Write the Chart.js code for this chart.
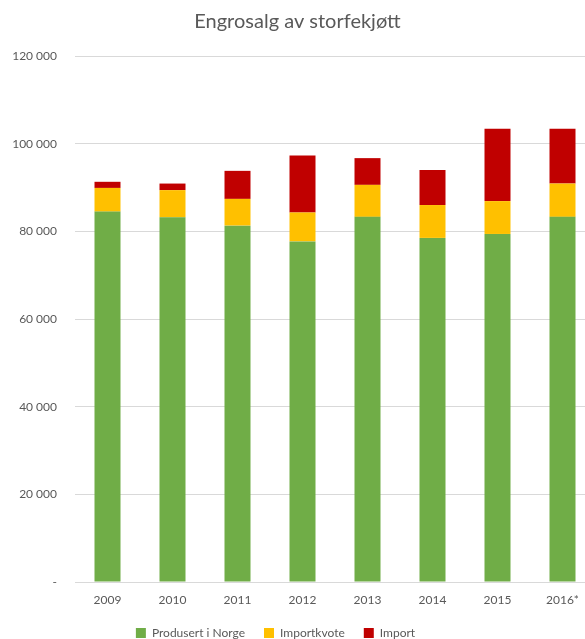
<!DOCTYPE html>
<html>
<head>
<meta charset="utf-8">
<script src="https://cdn.jsdelivr.net/npm/chart.js@4"></script>
<style>
  html, body { margin: 0; padding: 0; background: #fff; overflow: hidden; }
  #wrap { width: 595px; height: 649px; }
</style>
</head>
<body>
<div id="wrap"><canvas id="myChart"></canvas></div>
<script>
// data
const years = ['2009', '2010', '2011', '2012', '2013', '2014', '2015', '2016*'];
const produsert = [84500, 83200, 81300, 77700, 83300, 78500, 79400, 83300];
const importkvote = [5400, 6200, 6100, 6600, 7300, 7500, 7500, 7600];
const importVals = [1400, 1500, 6400, 13000, 6100, 8000, 16500, 12500];
const yTicks = [0, 20000, 40000, 60000, 80000, 100000, 120000];

const textCol = '#595959';
const fontFam = 'Lato, "Liberation Sans", sans-serif';

function fmt(v){
    if (v === 0) return '-';
    return String(v).replace(/\B(?=(\d{3})+(?!\d))/g, ' ');
}

// legend in the reference sits a bit left of the canvas centre
const legendShift = {
    id: 'legendShift',
    afterLayout: function(chart){
        chart.legend.left -= 22;
        chart.legend.right -= 22;
    }
};

const data = {
    labels: years,
    datasets: [
        { label: 'Produsert i Norge', data: produsert, backgroundColor: '#70AD47' },
        { label: 'Importkvote', data: importkvote, backgroundColor: '#FFC000' },
        { label: 'Import', data: importVals, backgroundColor: '#C00000' }
    ]
};

const config = {
    type: 'bar',
    data: data,
    plugins: [legendShift],
    options: {
        responsive: true,
        maintainAspectRatio: false,
        animation: false,
        layout: { padding: { top: 10, right: 0, bottom: 0, left: 0 } },
        datasets: { bar: { categoryPercentage: 1, barPercentage: 0.4 } },
        plugins: {
            title: {
                display: true,
                text: 'Engrosalg av storfekjøtt',
                color: textCol,
                font: { family: fontFam, size: 20, weight: 'normal' },
                padding: { top: 0, bottom: 22 }
            },
            legend: {
                position: 'bottom',
                labels: {
                    color: textCol,
                    font: { family: fontFam, size: 12 },
                    boxWidth: 10,
                    boxHeight: 10,
                    padding: 19
                }
            },
            tooltip: { enabled: false }
        },
        scales: {
            x: {
                stacked: true,
                afterFit: function(axis){ axis.height = 26; },
                grid: { display: false, drawTicks: false },
                border: { color: '#d9d9d9', width: 1 },
                ticks: { color: textCol, font: { family: fontFam, size: 12 }, padding: 11, autoSkip: false, maxRotation: 0 }
            },
            y: {
                stacked: true,
                min: 0,
                max: 120000,
                afterBuildTicks: function(axis){
                    axis.ticks = yTicks.map(function(v){ return { value: v }; });
                },
                afterFit: function(axis){ axis.width = 75; },
                grid: { color: '#d9d9d9', drawTicks: false },
                border: { display: false },
                ticks: {
                    color: textCol,
                    font: { family: fontFam, size: 12 },
                    padding: 18,
                    callback: function(v){ return fmt(v); }
                }
            }
        }
    }
};

const myChart = new Chart(document.getElementById('myChart'), config);
</script>
</body>
</html>
